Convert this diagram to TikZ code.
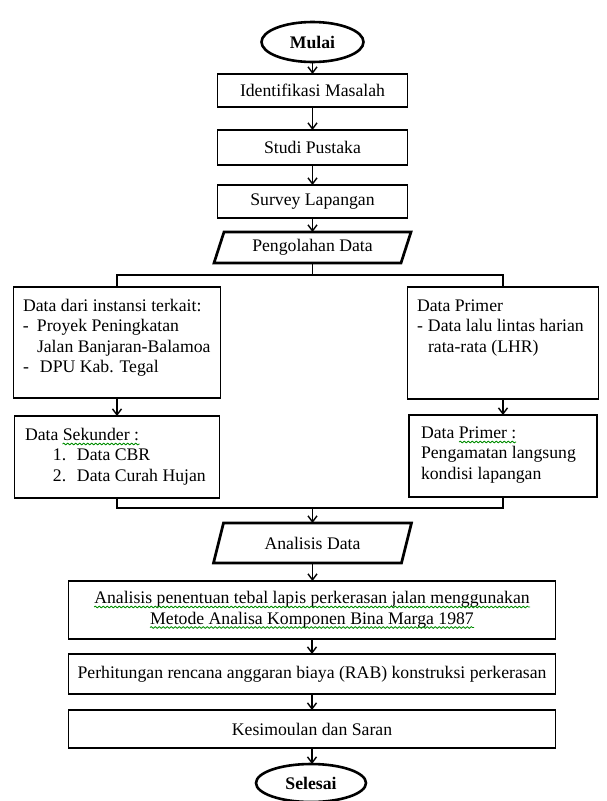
\documentclass[tikz,border=0pt]{standalone}
\usepackage{fontspec}
\setmainfont{Liberation Serif}
\usetikzlibrary{arrows.meta,shapes.geometric,calc,decorations.pathmorphing}
\setlength{\parindent}{0pt}
\begin{document}
\begin{tikzpicture}[x=1pt,y=-1pt,
  every node/.style={font=\fontsize{17.7}{20.5}\selectfont, inner sep=0pt, outer sep=0pt},
  box/.style={draw, line width=1.5pt, rectangle},
  term/.style={draw, ellipse, line width=2.6pt, font=\fontsize{17.7}{20.5}\selectfont\bfseries},
  para/.style={line width=2.7pt, line join=miter},
  link/.style={line width=1.4pt},
  arr/.style={link, -{Straight Barb[length=6pt,width=9pt]}},
  squig/.style={green!55!black, line width=0.8pt, decorate,
    decoration={snake, amplitude=0.9pt, segment length=4pt}}
]
\useasboundingbox (0,0) rectangle (606,801);

% top column
\node[term, minimum width=102pt, minimum height=40pt] (mulai) at (312.5,42) {Mulai};
\node[box, minimum width=190pt, minimum height=33pt] (ident) at (312.5,90.5) {Identifikasi Masalah};
\node[box, minimum width=190pt, minimum height=35pt] (studi) at (312.5,147.5) {Studi Pustaka};
\node[box, minimum width=190pt, minimum height=33pt] (survey) at (312.5,201.5) {Survey Lapangan};
\node[minimum width=187pt, minimum height=31pt] (olah) at (312.5,247.5) {Pengolahan Data};
\draw[para] ($(olah.north west)+(5,0)$) -- ($(olah.north east)+(5,0)$)
  -- ($(olah.south east)+(-5,0)$) -- ($(olah.south west)+(-5,0)$) -- cycle;

\draw[arr] (mulai.south) -- (mulai.south |- ident.north);
\draw[arr] (ident.south) -- (ident.south |- studi.north);
\draw[arr] (studi.south) -- (studi.south |- survey.north);
\draw[arr] (survey.south) -- (survey.south |- olah.north);

% branches
\coordinate (split) at (312.5,275);
\coordinate (merge) at (312.5,508);

\node[box, minimum width=207pt, minimum height=111pt] (kiri1) at (117,342.5)
  {\hspace*{9.5pt}\parbox[c][111pt][t]{197.5pt}{\raggedright\rule{0pt}{24pt}Data dari instansi terkait:\\
   \makebox[14pt][l]{-}Proyek Peningkatan\\
   \hspace*{14pt}Jalan Banjaran-Balamoa\\
   \makebox[17pt][l]{-}DPU Kab. Tegal}};

\node[box, minimum width=205pt, minimum height=82pt] (kiri2) at (117,457)
  {\hspace*{10.5pt}\parbox[c][82pt][t]{194.5pt}{\raggedright\rule{0pt}{24pt}Data Sekunder :\\
   \hspace*{28pt}\makebox[24pt][l]{1.}Data CBR\\
   \hspace*{28pt}\makebox[24pt][l]{2.}Data Curah Hujan}};

\node[box, minimum width=191pt, minimum height=112pt] (kanan1) at (503,343)
  {\hspace*{9.5pt}\parbox[c][112pt][t]{181.5pt}{\raggedright\rule{0pt}{24pt}Data Primer\\
   \makebox[11pt][l]{-}Data lalu lintas harian\\
   \hspace*{11pt}rata-rata (LHR)}};

\node[box, minimum width=188pt, minimum height=82pt] (kanan2) at (503,456)
  {\hspace*{12pt}\parbox[c][82pt][t]{176pt}{\raggedright\rule{0pt}{23pt}Data Primer :\\
   Pengamatan langsung\\
   kondisi lapangan}};

\draw[squig] ($(kiri2.north west)+(48,28)$) -- ($(kiri2.north west)+(125,28)$);
\draw[squig] ($(kanan2.north west)+(50,27)$) -- ($(kanan2.north west)+(107,27)$);

\draw[link] (olah.south) -- (split);
\draw[link] (kiri1.north) |- (split) -| (kanan1.north);
\draw[arr] (kiri1.south) -- (kiri1.south |- kiri2.north);
\draw[arr] (kanan1.south) -- (kanan1.south |- kanan2.north);
\draw[link] (kiri2.south) |- (merge) -| (kanan2.south);

% lower column
\node[minimum width=188pt, minimum height=40pt] (anal) at (312.5,543) {Analisis Data};
\draw[para] ($(anal.north west)+(5,0)$) -- ($(anal.north east)+(5,0)$)
  -- ($(anal.south east)+(-5,0)$) -- ($(anal.south west)+(-5,0)$) -- cycle;
\draw[arr] (merge) -- (anal.north);

\node[box, minimum width=487pt, minimum height=58pt, align=center] (tebal) at (312,610)
  {Analisis penentuan tebal lapis perkerasan jalan menggunakan\\Metode Analisa Komponen Bina Marga 1987};
\draw[squig] ($(tebal.center)+(-218,-3)$) -- ($(tebal.center)+(218,-3)$);
\draw[squig] ($(tebal.center)+(-162,17.5)$) -- ($(tebal.center)+(162,17.5)$);

\node[box, minimum width=487pt, minimum height=40pt] (rab) at (312,674)
  {Perhitungan rencana anggaran biaya (RAB) konstruksi perkerasan};
\node[box, minimum width=487pt, minimum height=38pt] (simpul) at (312,729) {Kesimoulan dan Saran};
\node[term, minimum width=110pt, minimum height=38pt] (selesai) at (311,783) {Selesai};

\draw[arr] (anal.south) -- (anal.south |- tebal.north);
\draw[arr] (tebal.south) -- (tebal.south |- rab.north);
\draw[arr] (rab.south) -- (rab.south |- simpul.north);
\draw[arr] (simpul.south) -- (simpul.south |- selesai.north);
\end{tikzpicture}
\end{document}
